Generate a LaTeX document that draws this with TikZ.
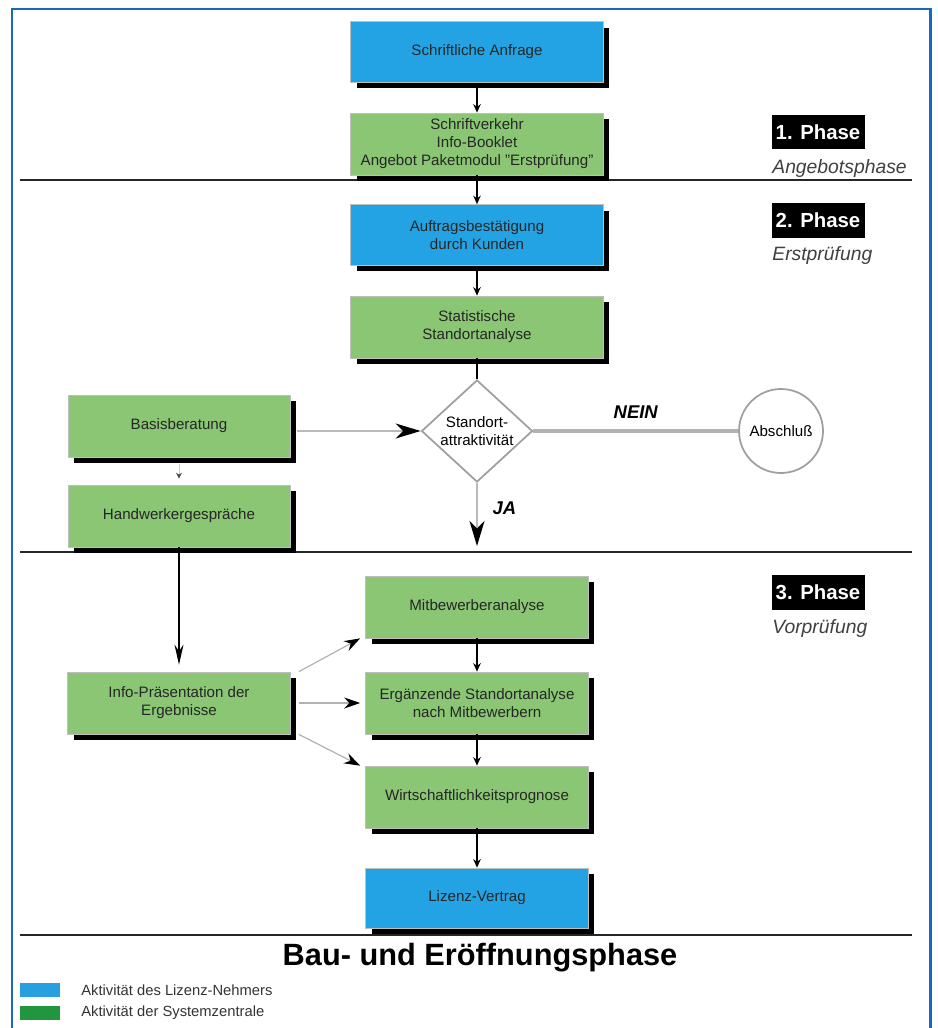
\documentclass[tikz,border=0pt]{standalone}
\usepackage{fontspec}
\setmainfont{Liberation Sans}
\usetikzlibrary{shapes.geometric,shadows,arrows.meta}
\definecolor{lnblue}{RGB}{36,163,228}
\definecolor{szgreen}{RGB}{138,198,116}
\definecolor{frameblue}{RGB}{24,104,190}
\definecolor{legblue}{RGB}{40,160,224}
\definecolor{leggreen}{RGB}{34,150,62}
\begin{document}
\begin{tikzpicture}[x=0.02cm,y=-0.02cm,
    box/.style={draw=black!25,fill=szgreen,text=black!85,align=center,inner sep=1pt,
      font=\fontsize{8.6}{10.2}\selectfont,
      drop shadow={shadow xshift=0.12cm,shadow yshift=-0.12cm,fill=black,opacity=1}},
    bluebox/.style={box,fill=lnblue},
    wide/.style={minimum width=5.06cm,minimum height=1.22cm},
    narrow/.style={minimum width=4.46cm,minimum height=1.24cm},
    phase/.style={fill=black,text=white,inner sep=0pt,minimum width=1.86cm,minimum height=0.7cm,
      font=\bfseries\fontsize{11.6}{13}\selectfont},
    sublabel/.style={anchor=west,inner sep=0pt,text=black!75,font=\itshape\fontsize{11}{13}\selectfont},
    varrow/.style={line width=0.8pt,-{Stealth[length=1.7mm,width=1.5mm]}},
    bigarrow/.style={gray!55,line width=1.2pt,-{Stealth[length=5mm,width=3mm,inset=1.5mm,color=black]}},
    sidearrow/.style={gray!60,line width=0.7pt,-{Stealth[length=3.2mm,width=2.2mm,color=black]}},
    phaseline/.style={line width=1.6pt,black!85},
    answer/.style={font=\bfseries\itshape\fontsize{10.5}{12}\selectfont}]
  \useasboundingbox (0,0) rectangle (937,1028);
  % frame
  \draw[frameblue,line width=1.7pt] (12,1028) -- (12,9) -- (930,9) -- (930,1028);

  % phases
  \draw[phaseline] (20,180) -- (912,180);
  \draw[phaseline] (20,552) -- (912,552);
  \draw[phaseline] (20,935) -- (912,935);
  \node[phase](P1) at(818,132){1. Phase};
  \node[sublabel](S1) at(772,168){Angebotsphase};
  \node[phase](P2) at(818,220){2. Phase};
  \node[sublabel](S2) at(772,255){Erstprüfung};
  \node[phase](P3) at(818,592){3. Phase};
  \node[sublabel](S3) at(772,628){Vorprüfung};

  % boxes
  \node[bluebox,wide](Anf) at(477,52){Schriftliche Anfrage};
  \node[box,wide,minimum height=1.24cm](Sv) at(477,144){Schriftverkehr\\Info-Booklet\\Angebot Paketmodul "Erstprüfung"};
  \node[bluebox,wide](Auf) at(477,235){Auftragsbestätigung\\durch Kunden};
  \node[box,wide,minimum height=1.24cm](Stat) at(477,327){Statistische\\Standortanalyse};
  \node[diamond,draw=gray!75,line width=1pt,inner sep=0pt,minimum width=2.22cm,minimum height=1.86cm,
    align=center,font=\fontsize{8.6}{10.2}\selectfont](Dia) at(477,431){Standort-\\attraktivität};
  \node[circle,draw=gray!75,line width=1pt,minimum size=1.68cm,inner sep=0pt,
    font=\fontsize{8.6}{10.2}\selectfont](Abs) at(781,431){Abschluß};
  \node[box,minimum width=4.44cm,minimum height=1.24cm](Bas) at(179,426){Basisberatung};
  \node[box,minimum width=4.44cm,minimum height=1.24cm](Hw) at(179,516){Handwerkergespräche};
  \node[box,narrow](Info) at(179,703){Info-Präsentation der\\Ergebnisse};
  \node[box,narrow](Mit) at(477,607){Mitbewerberanalyse};
  \node[box,narrow](Erg) at(477,703){Ergänzende Standortanalyse\\nach Mitbewerbern};
  \node[box,narrow](Wir) at(477,797){Wirtschaftlichkeitsprognose};
  \node[bluebox,narrow,minimum height=1.2cm](Liz) at(477,898){Lizenz-Vertrag};

  % connectors
  \foreach \x/\y in {Anf/Sv, Sv/Auf, Auf/Stat, Mit/Erg, Erg/Wir, Wir/Liz}{
    \draw[varrow](\x)--(\y);
  }
  \draw[line width=0.8pt](Stat)--(Dia);
  \draw[gray!60,line width=2pt](Dia)--(Abs)node[midway,above=3pt,answer,text=black]{NEIN};
  \coordinate(ja) at(477,546);
  \draw[bigarrow](Dia)--(ja)node[pos=0.4,right=5pt,answer,text=black]{JA};
  \draw[bigarrow,shorten <=0.14cm](Bas.east |- Dia)--(Dia);
  \draw[gray!40,line width=0.5pt,-{Stealth[length=1.2mm,width=1.2mm,color=black!70]},
    shorten <=0.14cm,shorten >=0.12cm](Bas)--(Hw);
  \draw[line width=0.7pt,-{Stealth[length=4mm,width=1.8mm]},shorten >=0.14cm](Hw)--(Info);
  \foreach \a/\b in {north east/Mit.south west, east/Erg.west, south east/Wir.north west}{
    \draw[sidearrow]([xshift=0.16cm]Info.\a)--([xshift=-0.1cm]\b);
  }

  % title and legend
  \node[font=\bfseries\fontsize{17.5}{20}\selectfont](T) at(480,958){Bau- und Eröffnungsphase};
  \node[fill=legblue,minimum width=0.8cm,minimum height=0.28cm,inner sep=0pt](LB) at(40,990){};
  \node[anchor=west,inner sep=0pt,text=black!80,font=\fontsize{8.4}{10}\selectfont](LBt) at(81,990){Aktivität des Lizenz-Nehmers};
  \node[fill=leggreen,minimum width=0.8cm,minimum height=0.28cm,inner sep=0pt](LG) at(40,1013){};
  \node[anchor=west,inner sep=0pt,text=black!80,font=\fontsize{8.4}{10}\selectfont](LGt) at(81,1013){Aktivität der Systemzentrale};
\end{tikzpicture}
\end{document}
